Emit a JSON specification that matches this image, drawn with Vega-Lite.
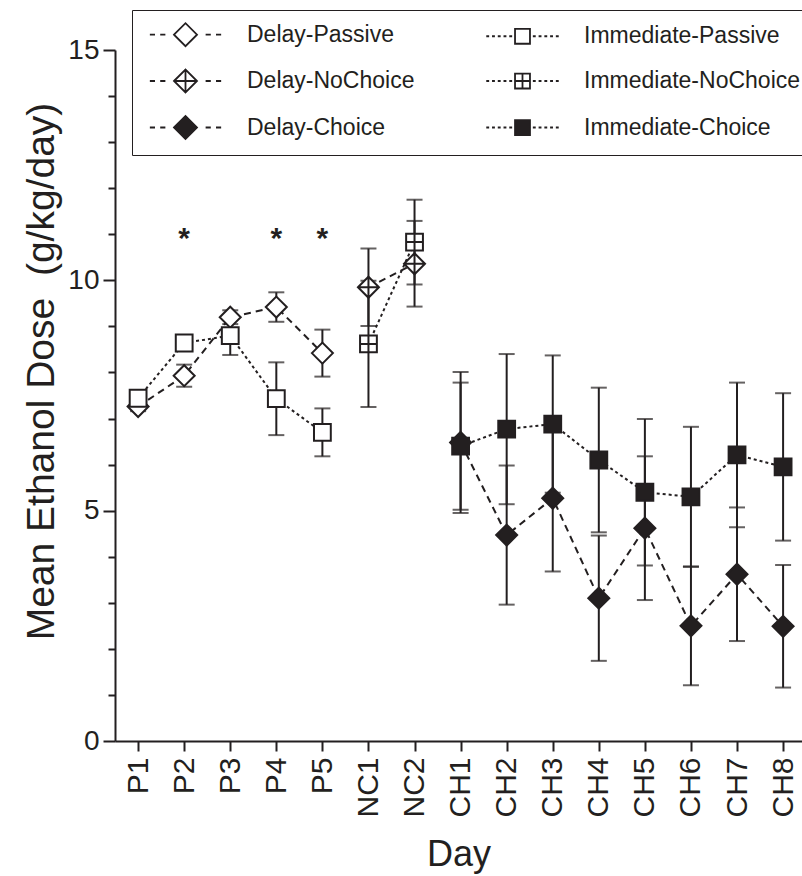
{
  "$schema": "https://vega.github.io/schema/vega-lite/v6.json",
  "width": 687,
  "height": 691,
  "autosize": "none",
  "padding": {"left": 115, "top": 50, "right": 0, "bottom": 135},
  "background": "white",
  "config": {
    "view": {"stroke": null},
    "font": "Liberation Sans",
    "axis": {
      "domainColor": "#231f20", "domainWidth": 2,
      "tickColor": "#231f20", "tickWidth": 2,
      "labelColor": "#231f20", "titleColor": "#231f20",
      "labelFont": "Liberation Sans", "titleFont": "Liberation Sans",
      "titleFontWeight": "normal", "grid": false, "labelOverlap": false
    }
  },
  "datasets": {
    "pts": [
      {"day": "P1", "group": "Delay-Passive", "mean": 7.26, "err": 0.1},
      {"day": "P2", "group": "Delay-Passive", "mean": 7.93, "err": 0.24},
      {"day": "P3", "group": "Delay-Passive", "mean": 9.2, "err": 0.15},
      {"day": "P4", "group": "Delay-Passive", "mean": 9.42, "err": 0.32},
      {"day": "P5", "group": "Delay-Passive", "mean": 8.42, "err": 0.51},
      {"day": "P1", "group": "Immediate-Passive", "mean": 7.44, "err": 0.1},
      {"day": "P2", "group": "Immediate-Passive", "mean": 8.64, "err": 0.12},
      {"day": "P3", "group": "Immediate-Passive", "mean": 8.8, "err": 0.42},
      {"day": "P4", "group": "Immediate-Passive", "mean": 7.43, "err": 0.79},
      {"day": "P5", "group": "Immediate-Passive", "mean": 6.7, "err": 0.52},
      {"day": "NC1", "group": "Delay-NoChoice", "mean": 9.85, "err": 0.84},
      {"day": "NC2", "group": "Delay-NoChoice", "mean": 10.36, "err": 0.93},
      {"day": "NC1", "group": "Immediate-NoChoice", "mean": 8.62, "err": 1.37},
      {"day": "NC2", "group": "Immediate-NoChoice", "mean": 10.83, "err": 0.92},
      {"day": "CH1", "group": "Delay-Choice", "mean": 6.48, "err": 1.53},
      {"day": "CH2", "group": "Delay-Choice", "mean": 4.47, "err": 1.51},
      {"day": "CH3", "group": "Delay-Choice", "mean": 5.27, "err": 1.59},
      {"day": "CH4", "group": "Delay-Choice", "mean": 3.1, "err": 1.36},
      {"day": "CH5", "group": "Delay-Choice", "mean": 4.62, "err": 1.56},
      {"day": "CH6", "group": "Delay-Choice", "mean": 2.5, "err": 1.29},
      {"day": "CH7", "group": "Delay-Choice", "mean": 3.62, "err": 1.45},
      {"day": "CH8", "group": "Delay-Choice", "mean": 2.49, "err": 1.33},
      {"day": "CH1", "group": "Immediate-Choice", "mean": 6.4, "err": 1.38},
      {"day": "CH2", "group": "Immediate-Choice", "mean": 6.77, "err": 1.63},
      {"day": "CH3", "group": "Immediate-Choice", "mean": 6.88, "err": 1.49},
      {"day": "CH4", "group": "Immediate-Choice", "mean": 6.1, "err": 1.57},
      {"day": "CH5", "group": "Immediate-Choice", "mean": 5.4, "err": 1.59},
      {"day": "CH6", "group": "Immediate-Choice", "mean": 5.3, "err": 1.52},
      {"day": "CH7", "group": "Immediate-Choice", "mean": 6.21, "err": 1.57},
      {"day": "CH8", "group": "Immediate-Choice", "mean": 5.95, "err": 1.6}
    ],
    "stars": [
      {"day": "P2", "level": 11.0},
      {"day": "P4", "level": 11.0},
      {"day": "P5", "level": 11.0}
    ]
  },
  "data": {"name": "pts"},
  "encoding": {
    "x": {
      "field": "day", "type": "ordinal",
      "scale": {"type": "point", "domain": ["P1","P2","P3","P4","P5","NC1","NC2","CH1","CH2","CH3","CH4","CH5","CH6","CH7","CH8"], "padding": 0.456, "align": 0.55},
      "axis": {"title": "Day", "labelAngle": 270, "tickSize": 10, "labelPadding": 6, "labelFontSize": 30, "titleFontSize": 36, "titlePadding": 20}
    },
    "y": {
      "field": "mean", "type": "quantitative",
      "scale": {"domain": [0, 15], "nice": false},
      "axis": {
        "title": "Mean Ethanol Dose \u00a0(g/kg/day)",
        "values": [0,1,2,3,4,5,6,7,8,9,10,11,12,13,14,15],
        "labelExpr": "datum.value % 5 === 0 ? datum.label : ''",
        "tickSize": {"condition": {"test": "datum.value % 5 === 0", "value": 12}, "value": 7},
        "labelFontSize": 28, "labelPadding": 4, "titleFontSize": 39, "titlePadding": 6, "titleY": 321
      }
    }
  },
  "layer": [
    {
      "mark": {"type": "line", "strokeWidth": 2, "color": "#231f20"},
      "encoding": {
        "strokeDash": {
          "field": "group", "type": "nominal", "legend": null,
          "scale": {
            "domain": ["Delay-Passive","Delay-NoChoice","Delay-Choice","Immediate-Passive","Immediate-NoChoice","Immediate-Choice"],
            "range": [[7,5],[7,5],[7,5],[3,3],[3,3],[3,3]]
          }
        }
      }
    },
    {
      "mark": {"type": "errorbar", "thickness": 2, "color": "#231f20", "ticks": {"size": 16, "thickness": 2, "color": "#231f20"}},
      "encoding": {
        "yError": {"field": "err"}
      }
    },
    {
      "mark": {"type": "point", "filled": true, "opacity": 1, "stroke": "#231f20", "strokeWidth": 2, "size": 441},
      "encoding": {
        "shape": {
          "field": "group", "type": "nominal", "legend": null,
          "scale": {
            "domain": ["Delay-Passive","Delay-NoChoice","Delay-Choice","Immediate-Passive","Immediate-NoChoice","Immediate-Choice"],
            "range": [
              "M-1,0L0,-1L1,0L0,1Z",
              "M-1,0L0,-1L1,0L0,1ZM-1,0H1M0,-1V1",
              "M-1,0L0,-1L1,0L0,1Z",
              "M-0.8,-0.8H0.8V0.8H-0.8Z",
              "M-0.8,-0.8H0.8V0.8H-0.8ZM-0.8,0H0.8M0,-0.8V0.8",
              "M-0.8,-0.8H0.8V0.8H-0.8Z"
            ]
          }
        },
        "fill": {
          "field": "group", "type": "nominal", "legend": null,
          "scale": {
            "domain": ["Delay-Passive","Delay-NoChoice","Delay-Choice","Immediate-Passive","Immediate-NoChoice","Immediate-Choice"],
            "range": ["white","white","#231f20","white","white","#231f20"]
          }
        }
      }
    },
    {
      "data": {"name": "stars"},
      "mark": {"type": "text", "text": "*", "fontSize": 30, "fontWeight": "bold", "baseline": "middle", "dy": 5, "color": "#231f20"},
      "encoding": {
        "y": {
          "field": "level", "type": "quantitative",
          "scale": {"domain": [0, 15], "nice": false},
          "axis": {
            "title": "Mean Ethanol Dose \u00a0(g/kg/day)",
            "values": [0,1,2,3,4,5,6,7,8,9,10,11,12,13,14,15],
            "labelExpr": "datum.value % 5 === 0 ? datum.label : ''",
            "tickSize": {"condition": {"test": "datum.value % 5 === 0", "value": 12}, "value": 7},
            "labelFontSize": 28, "labelPadding": 4, "titleFontSize": 39, "titlePadding": 6, "titleY": 321
          }
        }
      }
    },
    {
      "transform": [{"filter": "false"}],
      "mark": {"type": "point", "filled": true, "opacity": 1, "strokeWidth": 1.8, "size": 529},
      "encoding": {
        "shape": {
          "field": "group", "type": "nominal",
          "scale": {
            "domain": ["Delay-Passive","Delay-NoChoice","Delay-Choice","Immediate-Passive","Immediate-NoChoice","Immediate-Choice"],
            "range": [
              "M-3.1,0H-2.65M-2.2,0H-1.75M-1,0L0,-1L1,0L0,1ZM1.75,0H2.2M2.65,0H3.1",
              "M-3.1,0H-2.65M-2.2,0H-1.75M-1,0L0,-1L1,0L0,1ZM-1,0H1M0,-1V1M1.75,0H2.2M2.65,0H3.1",
              "M-3.1,0H-2.65M-2.2,0H-1.75M-1,0L0,-1L1,0L0,1ZM1.75,0H2.2M2.65,0H3.1",
              "M-3.15,0H-2.9M-2.65,0H-2.4M-2.15,0H-1.9M-1.65,0H-1.4M-1.15,0H-0.9M-0.65,-0.65H0.65V0.65H-0.65ZM0.9,0H1.15M1.4,0H1.65M1.9,0H2.15M2.4,0H2.65M2.9,0H3.15",
              "M-3.15,0H-2.9M-2.65,0H-2.4M-2.15,0H-1.9M-1.65,0H-1.4M-1.15,0H-0.9M-0.65,-0.65H0.65V0.65H-0.65ZM-0.65,0H0.65M0,-0.65V0.65M0.9,0H1.15M1.4,0H1.65M1.9,0H2.15M2.4,0H2.65M2.9,0H3.15",
              "M-3.15,0H-2.9M-2.65,0H-2.4M-2.15,0H-1.9M-1.65,0H-1.4M-1.15,0H-0.9M-0.65,-0.65H0.65V0.65H-0.65ZM0.9,0H1.15M1.4,0H1.65M1.9,0H2.15M2.4,0H2.65M2.9,0H3.15"
            ]
          },
          "legend": {
            "title": null, "orient": "none", "legendX": 17, "legendY": -40, "columns": 2,
            "strokeColor": "#231f20", "fillColor": "white", "padding": 12,
            "symbolSize": 529, "symbolStrokeWidth": 1.8, "symbolStrokeColor": "#231f20", "symbolOpacity": 1,
            "symbolOffset": 29, "labelOffset": 49, "labelFontSize": 23, "labelFont": "Liberation Sans", "labelColor": "#231f20", "labelLimit": 400,
            "columnPadding": 66, "rowPadding": 15.5,
            "encode": {
              "legend": {"update": {"strokeWidth": {"value": 2}}}
            }
          }
        },
        "fill": {
          "field": "group", "type": "nominal",
          "scale": {
            "domain": ["Delay-Passive","Delay-NoChoice","Delay-Choice","Immediate-Passive","Immediate-NoChoice","Immediate-Choice"],
            "range": ["white","white","#231f20","white","white","#231f20"]
          }
        },
        "stroke": {
          "field": "group", "type": "nominal",
          "scale": {
            "domain": ["Delay-Passive","Delay-NoChoice","Delay-Choice","Immediate-Passive","Immediate-NoChoice","Immediate-Choice"],
            "range": ["#231f20","#231f20","#231f20","#231f20","#231f20","#231f20"]
          }
        }
      }
    }
  ],
  "resolve": {"scale": {"shape": "independent", "fill": "independent", "stroke": "independent"}}
}
